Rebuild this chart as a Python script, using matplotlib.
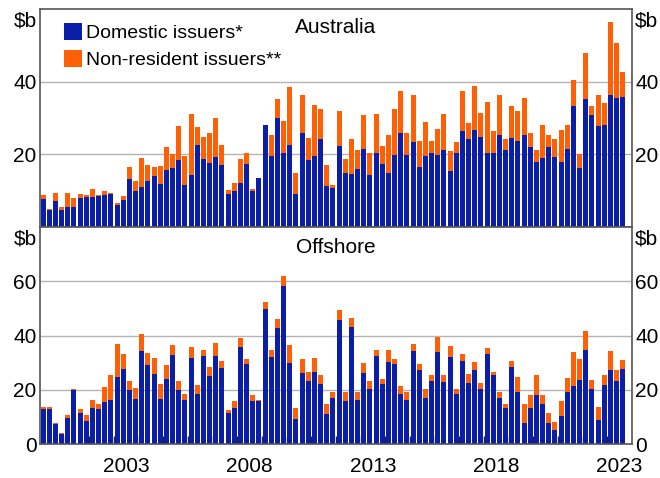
import matplotlib.pyplot as plt
import numpy as np
import pandas as pd

plt.rcParams['font.family'] = ['Liberation Sans', 'DejaVu Sans']

# trimestri 2000Q1 - 2023Q3
trimestri = pd.period_range("2000Q1", "2023Q3", freq="Q")

# Australia ($b)
aus_domestic = [
    7.7, 4.7, 7.1, 4.7, 5.5, 5.5, 7.9, 8.2, 8.2, 8.6, 8.8, 9.0,
    6.0, 7.4, 13.2, 9.9, 11.0, 12.6, 14.0, 11.8, 15.6, 16.2, 18.4, 11.5,
    14.2, 22.5, 18.6, 17.5, 19.2, 17.0, 9.0, 9.9, 12.1, 17.3, 9.9, 13.4,
    28.2, 19.5, 29.9, 20.3, 22.5, 9.0, 26.0, 18.4, 19.5, 24.1, 11.2, 10.7,
    22.2, 14.8, 14.5, 15.9, 21.4, 14.2, 20.5, 17.3, 14.8, 19.7, 25.8, 19.7,
    23.3, 16.4, 19.5, 20.3, 19.7, 21.1, 15.3, 20.3, 26.3, 24.1, 26.8, 24.9,
    20.5, 20.3, 25.2, 21.1, 24.4, 23.8, 25.2, 21.9, 17.8, 18.9, 21.9, 19.2,
    17.8, 21.4, 33.4, 16.2, 35.3, 30.7, 27.9, 28.2, 36.2, 35.6, 35.9,
]
aus_nonresident = [
    1.1, 0.2, 2.2, 0.8, 3.8, 2.4, 1.1, 0.6, 2.2, 0.3, 1.1, 0.3,
    0.6, 1.1, 3.2, 2.7, 7.9, 4.4, 2.4, 4.9, 6.3, 3.8, 9.5, 8.0,
    16.8, 4.9, 6.1, 8.3, 10.9, 5.5, 1.1, 2.2, 6.5, 3.2, 0.5, 0.0,
    0.0, 5.7, 5.4, 9.0, 16.1, 5.8, 10.4, 6.0, 14.2, 8.5, 5.8, 0.8,
    9.6, 3.8, 9.6, 5.2, 9.3, 6.3, 10.7, 4.9, 10.4, 12.9, 11.5, 6.1,
    13.1, 7.2, 9.3, 3.3, 7.4, 9.9, 5.5, 3.0, 11.2, 4.4, 12.1, 6.6,
    14.0, 6.0, 11.0, 3.0, 9.0, 8.0, 10.4, 3.9, 3.3, 9.3, 3.3, 4.9,
    9.0, 6.8, 7.1, 3.8, 12.6, 2.7, 8.5, 6.0, 20.2, 15.1, 6.8,
]

# Offshore ($b)
off_domestic = [
    12.8, 13.0, 7.5, 3.8, 9.7, 20.0, 11.5, 8.6, 13.4, 13.0, 15.6, 16.3,
    24.8, 27.7, 20.0, 16.7, 34.4, 29.2, 25.9, 16.7, 24.0, 32.9, 20.0, 16.3,
    31.8, 18.6, 32.6, 25.2, 32.6, 28.2, 11.3, 13.1, 35.9, 29.6, 15.7, 15.7,
    49.8, 32.2, 42.8, 58.3, 30.0, 9.1, 26.3, 23.4, 26.7, 22.3, 10.9, 16.8,
    45.8, 15.7, 43.2, 16.4, 26.3, 20.1, 32.6, 22.3, 30.4, 29.6, 18.6, 16.4,
    34.4, 27.4, 17.1, 23.4, 34.0, 23.0, 32.2, 18.6, 30.7, 22.6, 27.4, 20.4,
    33.3, 25.6, 17.1, 13.1, 28.5, 19.0, 7.6, 13.1, 17.9, 14.6, 7.6, 5.0,
    10.2, 19.0, 21.2, 23.7, 34.8, 20.1, 8.7, 21.9, 27.1, 23.4, 27.8,
]
off_nonresident = [
    0.7, 0.5, 0.4, 0.4, 0.9, 0.4, 1.5, 2.2, 2.9, 1.8, 5.5, 9.2,
    12.1, 5.6, 3.3, 4.0, 6.2, 4.4, 5.9, 5.5, 5.2, 3.7, 3.3, 2.2,
    4.1, 3.3, 2.2, 3.3, 4.7, 2.5, 1.4, 2.6, 3.3, 1.9, 2.2, 0.7,
    2.6, 2.6, 3.3, 3.6, 6.6, 4.0, 5.2, 3.3, 5.1, 3.3, 3.7, 2.2,
    3.6, 3.6, 3.3, 2.9, 3.7, 3.3, 2.2, 1.8, 4.4, 1.9, 2.9, 2.6,
    2.6, 2.2, 3.0, 2.2, 5.5, 2.6, 4.0, 1.8, 2.6, 3.3, 3.0, 2.2,
    2.2, 1.1, 1.9, 1.8, 2.2, 5.8, 7.3, 5.1, 7.7, 3.6, 3.7, 3.0,
    5.8, 5.5, 12.8, 7.8, 6.9, 3.6, 5.1, 3.7, 7.3, 3.7, 3.3,
]

anni_etichette = [2003, 2008, 2013, 2018, 2023]

blu = "#0A1EA8"
arancio = "#FF5F05"
grigio_griglia = "#b4b4b4"
grigio_bordo = "#555555"

x = np.array([p.year + (p.quarter - 1) / 4 + 0.125 for p in trimestri])

fig = plt.figure(figsize=(6.6, 4.78), dpi=100)
ax1 = fig.add_axes([40 / 660, 1 - 227 / 478, 592 / 660, 218 / 478])
ax2 = fig.add_axes([40 / 660, 1 - 444 / 478, 592 / 660, 217 / 478])

pannelli = [
    (ax1, aus_domestic, aus_nonresident, "Australia", 60, [20, 40], 0.915),
    (ax2, off_domestic, off_nonresident, "Offshore", 80, [0, 20, 40, 60], 0.905),
]

for ax, dom, nonres, titolo, ymax, yticks, ytit in pannelli:
    ax.bar(x, dom, width=0.2, color=blu, label="Domestic issuers*")
    ax.bar(x, nonres, width=0.2, bottom=dom, color=arancio,
           label="Non-resident issuers**")
    ax.set_xlim(2000, 2024)
    ax.set_ylim(0, ymax)
    ax.set_axisbelow(True)
    ax.set_yticks(yticks)
    ax.yaxis.grid(True, color=grigio_griglia, lw=1)
    ax.tick_params(axis="y", length=0, labelsize=15, pad=2.5,
                   labelleft=True, labelright=True)
    for lato in ax.spines.values():
        lato.set_color(grigio_bordo)
        lato.set_linewidth(1.2)
    ax.text(0.5, ytit, titolo, transform=ax.transAxes, ha="center",
            va="center", fontsize=15)
    ax.text(-0.006, 0.99, r"\$b", transform=ax.transAxes, ha="right",
            va="top", fontsize=15)
    ax.text(1.005, 0.99, r"\$b", transform=ax.transAxes, ha="left",
            va="top", fontsize=15)

# asse x: tacche agli inizi d'anno, etichette a metà anno
ax1.set_xticks(range(2001, 2024))
ax1.tick_params(axis="x", length=0, labelbottom=False)
ax2.set_xticks(range(2001, 2024))
ax2.tick_params(axis="x", which="major", direction="in", length=6,
                width=1, color="#222222", labelbottom=False)
ax2.set_xticks([a + 0.5 for a in anni_etichette], minor=True)
ax2.set_xticklabels([str(a) for a in anni_etichette], minor=True)
ax2.tick_params(axis="x", which="minor", length=0, labelsize=15, pad=9)

ax1.legend(loc="upper left", bbox_to_anchor=(0.04, 0.935), frameon=False,
           fontsize=14, handlelength=0.95, handleheight=0.95,
           handletextpad=0.2, labelspacing=0.4, borderpad=0,
           borderaxespad=0)

plt.savefig("out.png", dpi=100)
